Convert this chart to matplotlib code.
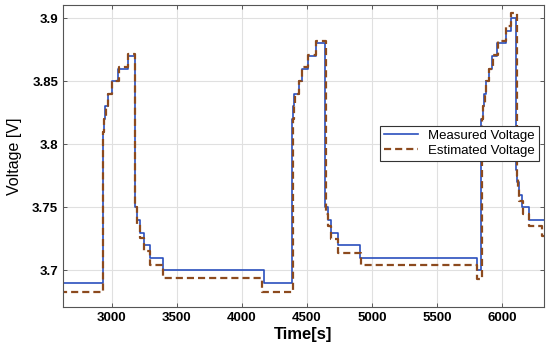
import matplotlib.pyplot as plt

plt.rcParams.update({"font.family": ["Liberation Sans", "DejaVu Sans"],
                     "text.color": "black", "axes.labelcolor": "black",
                     "xtick.color": "black", "ytick.color": "black"})

# step change times [s] and voltage after each change
meas_t = [2600, 2930, 2940, 2950, 2970, 3000, 3050, 3125, 3180, 3190, 3215, 3245, 3290, 3390, 4166,
          4387, 4395, 4402, 4435, 4461, 4505, 4569, 4641, 4660, 4685, 4735, 4910, 5808,
          5838, 5848, 5860, 5872, 5897, 5923, 5961, 6025, 6065, 6108, 6115, 6128, 6154, 6205, 6340]
meas_v = [3.69, 3.81, 3.82, 3.83, 3.84, 3.85, 3.86, 3.87, 3.75, 3.74, 3.73, 3.72, 3.71, 3.70, 3.69,
          3.82, 3.83, 3.84, 3.85, 3.86, 3.87, 3.88, 3.75, 3.74, 3.73, 3.72, 3.71, 3.70,
          3.82, 3.83, 3.84, 3.85, 3.86, 3.87, 3.88, 3.89, 3.90, 3.78, 3.77, 3.76, 3.75, 3.74, 3.74]

est_t = [2600, 2932, 2942, 2952, 2972, 3002, 3052, 3125, 3182, 3192, 3217, 3247, 3292, 3392, 4154,
         4390, 4398, 4405, 4438, 4464, 4508, 4569, 4643, 4662, 4687, 4737, 4912, 5808,
         5845, 5852, 5864, 5876, 5900, 5926, 5964, 6025, 6065, 6110, 6117, 6130, 6157, 6208, 6308, 6340]
est_v = [3.683, 3.81, 3.82, 3.83, 3.84, 3.85, 3.861, 3.872, 3.75, 3.737, 3.726, 3.715, 3.704, 3.694, 3.683,
         3.82, 3.83, 3.84, 3.85, 3.861, 3.871, 3.882, 3.745, 3.735, 3.725, 3.714, 3.704, 3.693,
         3.82, 3.83, 3.84, 3.85, 3.86, 3.871, 3.882, 3.894, 3.904, 3.775, 3.765, 3.755, 3.745, 3.735, 3.727, 3.727]

fig = plt.figure(figsize=(5.5, 3.48), dpi=100)
ax = fig.add_axes([0.1145, 0.118, 0.8745, 0.8676])

ax.plot(meas_t, meas_v, drawstyle="steps-post", color="#2a4fbd", linewidth=1.2,
        label="Measured Voltage")
ax.plot(est_t, est_v, drawstyle="steps-post", color="#8c4a1e", linewidth=1.6,
        linestyle=(0, (3.2, 1.8)), label="Estimated Voltage")

ax.set_xlim(2625, 6320)
ax.set_ylim(3.671, 3.9105)
ax.set_xticks(range(3000, 6001, 500))
ax.set_yticks([3.7, 3.75, 3.8, 3.85, 3.9])
ax.set_yticklabels(["3.7", "3.75", "3.8", "3.85", "3.9"])
ax.grid(True, color="#e0e0e0", linewidth=0.8)
ax.tick_params(direction="in", top=True, right=True, length=3, width=0.6,
               labelsize=9.5, color="#444444")
for lab in ax.get_xticklabels() + ax.get_yticklabels():
    lab.set_fontweight("bold")
for s in ax.spines.values():
    s.set_color("#555555")
    s.set_linewidth(0.8)

ax.set_xlabel("Time[s]", fontsize=12, fontweight="bold", labelpad=2)
ax.set_ylabel("Voltage [V]", fontsize=11.5, labelpad=7)

leg = ax.legend(loc="upper right", bbox_to_anchor=(0.99, 0.6), fontsize=9.5,
                fancybox=False, framealpha=1, edgecolor="#333333",
                handlelength=2.6, borderpad=0.3, labelspacing=0.2, borderaxespad=0)
leg.get_frame().set_linewidth(0.8)

fig.savefig("out.png", dpi=100)
